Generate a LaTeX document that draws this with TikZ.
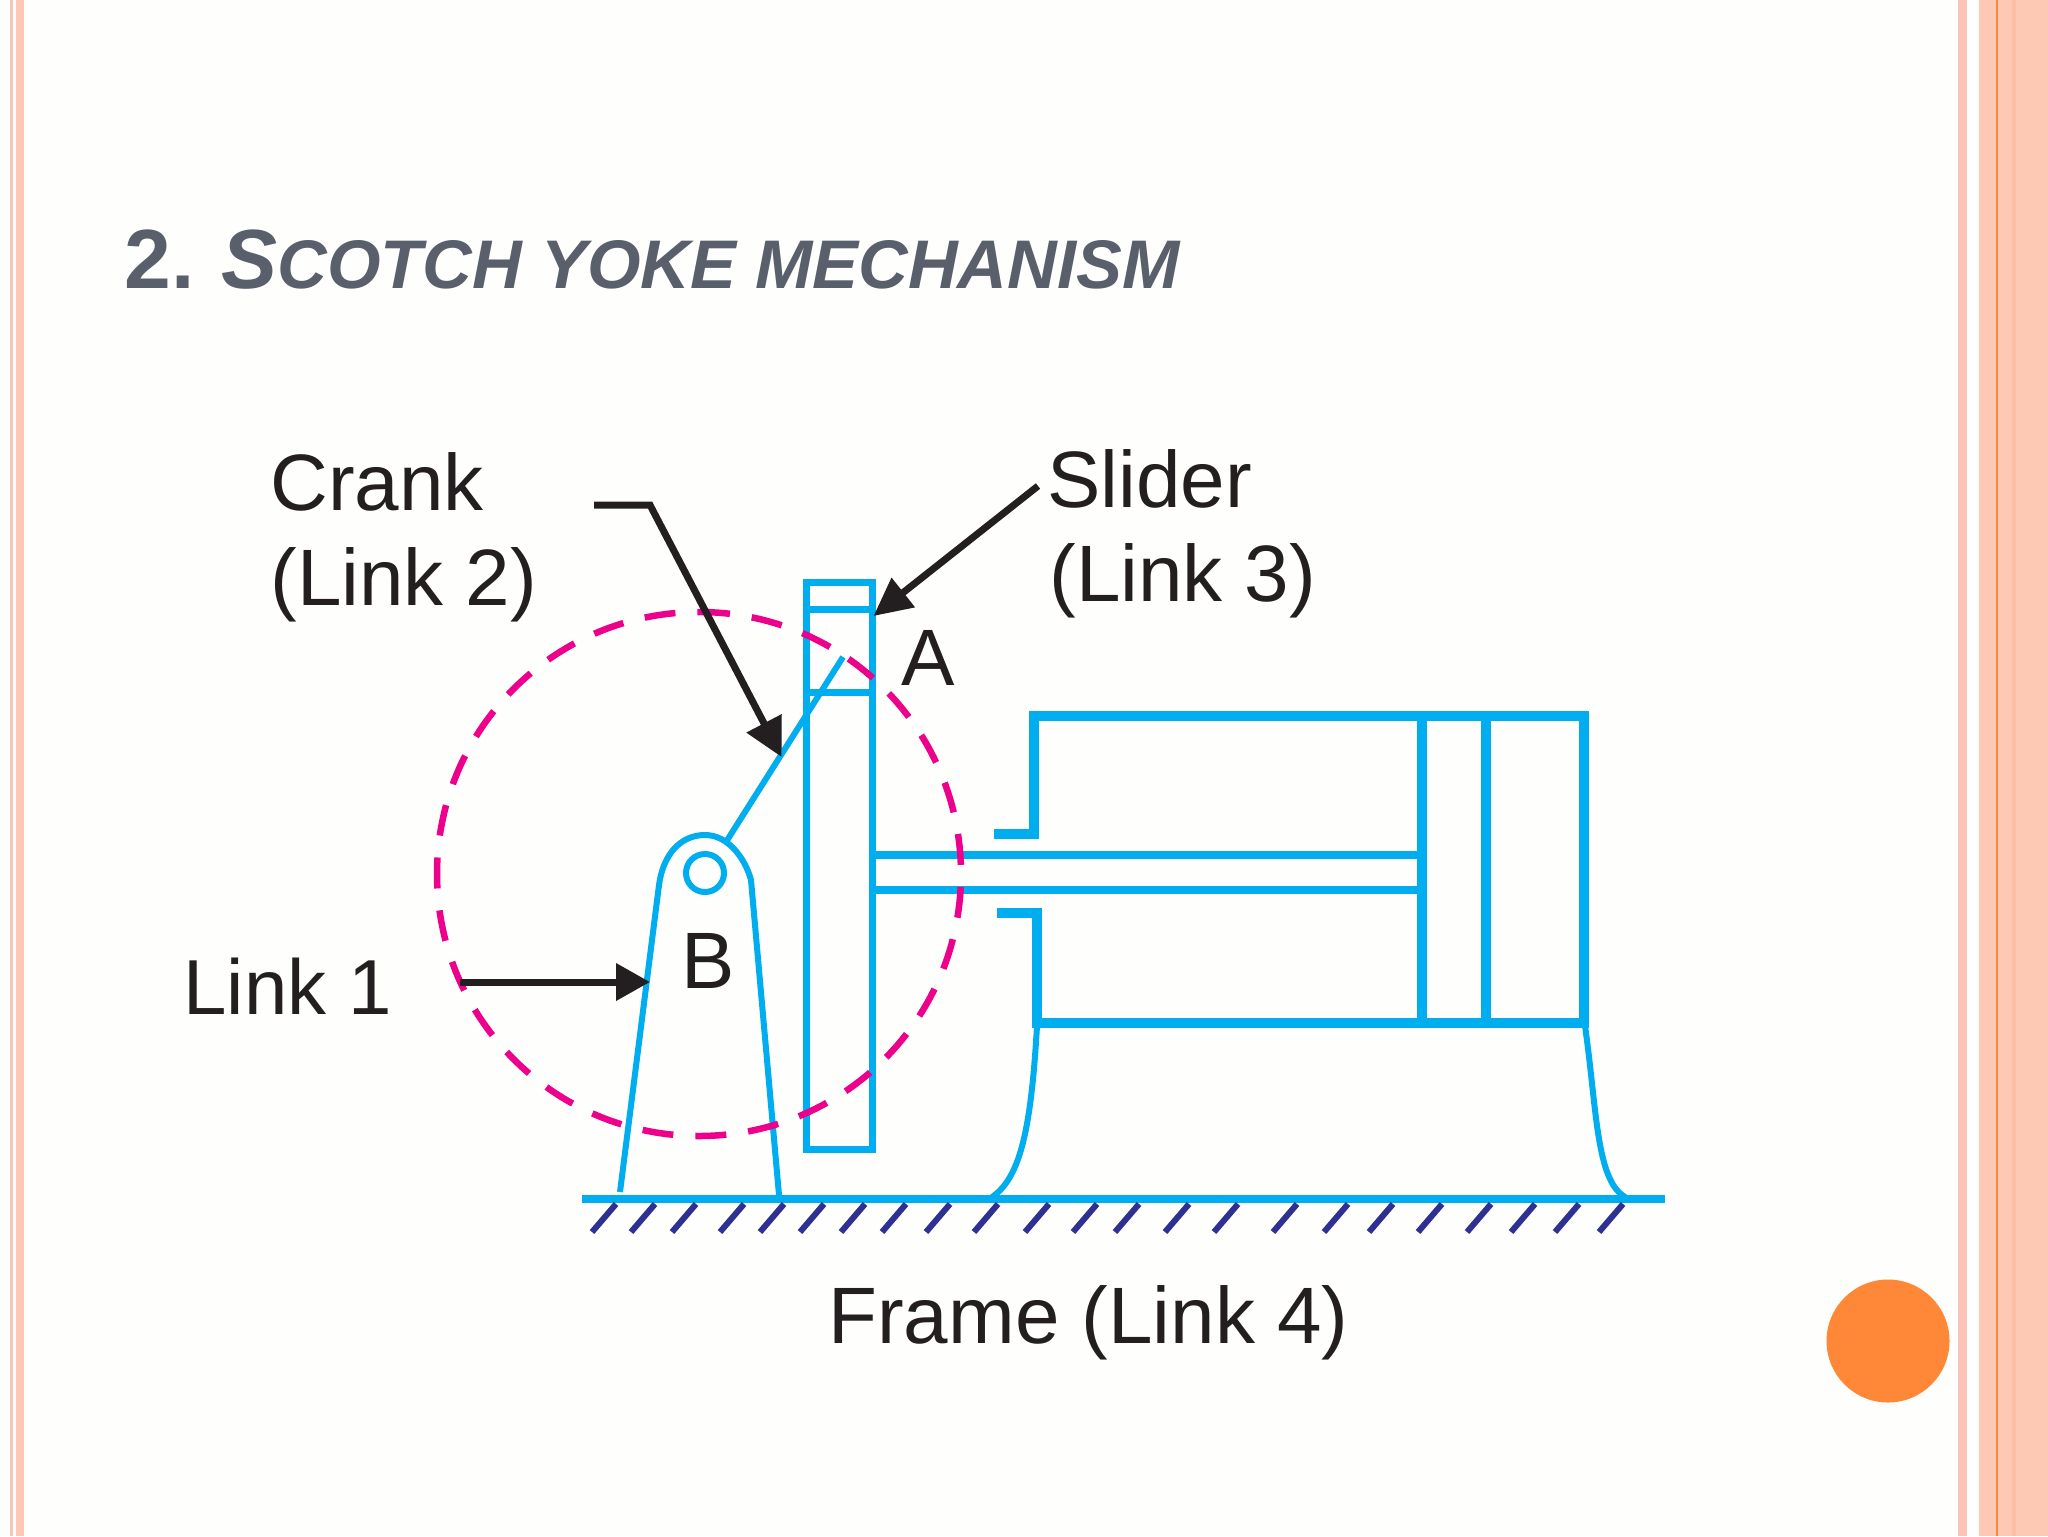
\documentclass[tikz,border=0pt]{standalone}
\usepackage{fontspec}
\setmainfont{Liberation Sans}
\usetikzlibrary{arrows.meta}
\definecolor{bgc}{HTML}{FEFEFC}
\definecolor{peach}{HTML}{FDC9B5}
\definecolor{pinkbar}{HTML}{FBC4B8}
\definecolor{bandc}{HTML}{FBBFA5}
\definecolor{lineor}{HTML}{F58A45}
\definecolor{dotor}{HTML}{FF8838}
\definecolor{titlec}{HTML}{5A5F6C}
\definecolor{mechblue}{HTML}{00AEEF}
\definecolor{mechpink}{HTML}{EC008C}
\definecolor{hatchc}{HTML}{2E3192}
\definecolor{inkc}{HTML}{231F20}
\tikzset{
  x=0.5pt,y=-0.5pt,
  yokeline/.style={draw=mechblue,line width=3.5pt},
  cyl/.style={draw=mechblue,line width=5pt,line join=miter},
  rodline/.style={draw=mechblue,line width=4.25pt},
  thin blue/.style={draw=mechblue,line width=3pt},
  hatchline/.style={draw=hatchc,line width=3pt},
  callout/.style={draw=inkc,line width=3.5pt},
  lbl/.style={anchor=base west,inner sep=0pt,text=inkc,font=\fontsize{40}{48}\selectfont},
}
\begin{document}
\begin{tikzpicture}
\useasboundingbox (0,0) rectangle (2048,1536);
% slide background
\fill[bgc] (0,0) rectangle (2048,1536);
\fill[pinkbar] (10,0) rectangle (13,1536);
\fill[peach] (16,0) rectangle (24,1536);
\fill[pinkbar] (1958,0) rectangle (1967,1536);
\fill[peach] (1979,0) rectangle (2048,1536);
\fill[bandc] (2012,0) rectangle (2016,1536);
\fill[lineor] (1996,0) rectangle (1998,1536);
\fill[dotor] (1888,1341) circle[radius=61.5];
% title
\node[anchor=base west,inner sep=0pt,text=titlec,font=\bfseries] (title) at (124,288)
  {\fontsize{42}{50}\selectfont 2.\hspace{13.6pt}\itshape S\fontsize{34.4}{50}\selectfont COTCH YOKE MECHANISM};
% ground
\draw[draw=mechblue,line width=4.25pt] (582,1199) -- (1665,1199);
\foreach \t in {616,655,696,744,784,824,865,906,950,998,1049,1097,1139,1189,1238,1297,1348,1393,1442,1491,1535,1579,1623}
  \draw[hatchline] (\t,1204) -- ({\t-24},1232);
% link 1
\draw[thin blue] (620,1192) -- (659,885) .. controls (663,855) and (680,835) .. (705,835)
  .. controls (728,835) and (745,858) .. (751,880) -- (779,1195);
\draw[draw=mechblue,line width=3pt] (705,873) circle[radius=19];
% crank
\draw[thin blue] (726,842) -- (843,657);
% yoke
\draw[yokeline] (806,582) rectangle (872,1149);
\draw[yokeline] (806,609) -- (872,609);
\draw[yokeline] (806,692) -- (872,692);
% cylinder
\draw[cyl] (994,834) -- (1034,834) -- (1034,716) -- (1584,716) -- (1584,1023) -- (1037,1023) -- (1037,912.5) -- (997,912.5);
\draw[cyl] (1422,716) -- (1422,1023);
\draw[cyl] (1485.5,716) -- (1485.5,1023);
\draw[rodline] (872,855) -- (1422,855);
\draw[rodline] (872,890) -- (1422,890);
% cylinder legs
\draw[thin blue] (1037,1026) .. controls (1031,1130) and (1020,1178) .. (992,1197);
\draw[thin blue] (1585,1026) .. controls (1597,1110) and (1596,1180) .. (1625,1197);
% crank circle
\draw[draw=mechpink,line width=3.25pt,dash pattern=on 15.5pt off 11.03pt] (699,612) arc[start angle=-90,end angle=270,radius=262];
% labels
\node[lbl] (crankA) at (270,510) {Crank};
\node[lbl] (crankB) at (270,605) {(Link 2)};
\node[lbl] (sliderA) at (1047,507) {Slider};
\node[lbl] (sliderB) at (1049,601) {(Link 3)};
\node[lbl] (ptA) at (901,685) {A};
\node[lbl] (ptB) at (681,988) {B};
\node[lbl,font=\fontsize{39}{48}\selectfont] (linkone) at (183,1014) {Link 1};
\node[lbl] (frame) at (828,1343) {Frame (Link 4)};
% callouts
\coordinate (crankfree) at (594,505);
\coordinate (crankbend) at (650,505);
\coordinate (cranktip) at (781.6,757);
\coordinate (sliderfree) at (1038,486);
\coordinate (slidertip) at (873.5,616);
\coordinate (linkfree) at (460,982);
\coordinate (linktip) at (650,982);
\draw[callout,-{Triangle[length=19pt,width=19pt]}] (crankfree) -- (crankbend) -- (cranktip);
\draw[callout,-{Triangle[length=19pt,width=18pt]}] (sliderfree) -- (slidertip);
\draw[callout,-{Triangle[length=17pt,width=18pt]}] (linkfree) -- (linktip);
\end{tikzpicture}
\end{document}
